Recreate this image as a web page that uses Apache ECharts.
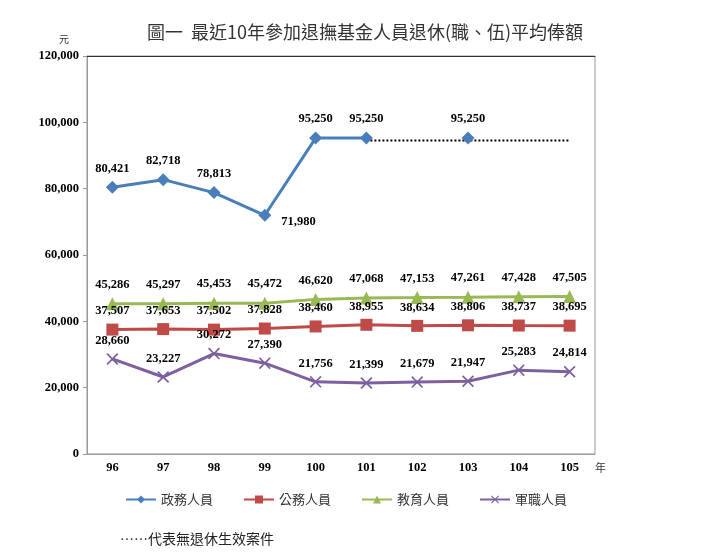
<!DOCTYPE html>
<html>
<head>
<meta charset="utf-8">
<title>最近10年參加退撫基金人員退休(職、伍)平均俸額</title>
<script src="https://cdn.jsdelivr.net/npm/echarts@6/dist/echarts.min.js"></script>
<style>
  html, body { margin: 0; padding: 0; background: #fff; }
  #chart { width: 720px; height: 557px; }
</style>
</head>
<body>
<div id="chart"></div>
<script>
// 民國年
var years = ['96', '97', '98', '99', '100', '101', '102', '103', '104', '105'];

var zhengwu = [80421, 82718, 78813, 71980, 95250, 95250, null, 95250, null, null];
var gongwu  = [37507, 37653, 37502, 37828, 38460, 38955, 38634, 38806, 38737, 38695];
var jiaoyu  = [45286, 45297, 45453, 45472, 46620, 47068, 47153, 47261, 47428, 47505];
var junzhi  = [28660, 23227, 30272, 27390, 21756, 21399, 21679, 21947, 25283, 24814];
// 無退休生效案件 (dotted)
var noCase  = [null, null, null, null, null, 94500, 94500, 94500, 94500, 94500];

var names = ['政務人員', '公務人員', '教育人員', '軍職人員'];
var colors = ['#4A7EBB', '#BE4B48', '#98B954', '#7D60A0'];

var labelFont = 'Liberation Serif';
var cjkFont = '"Noto Sans CJK TC"';
var crossSymbol = 'path://M0,1L1,0L5,4L9,0L10,1L6,5L10,9L9,10L5,6L1,10L0,9L4,5Z';

function fmt(p) {
	return p.value == null ? '' : Number(p.value).toLocaleString('en-US');
}

function makeSeries(name, data, color, symbol, size) {
	return {
		name: name,
		type: 'line',
		data: data,
		symbol: symbol,
		symbolSize: size,
		connectNulls: false,
		lineStyle: { color: color, width: 3 },
		itemStyle: { color: color },
		label: {
			show: true,
			position: 'top',
			distance: 6,
			formatter: fmt,
			fontFamily: labelFont,
			fontWeight: 'bold',
			fontSize: 12.5,
			color: '#000'
		},
		z: 3
	};
}

var s1 = makeSeries(names[0], zhengwu, colors[0], 'diamond', 13);
// 71,980 label sits to the right
s1.data = zhengwu.map(function (v, i) {
	if (i === 3) return { value: v, label: { position: 'right', distance: 10, offset: [0, 6] } };
	return v;
});

var chart = echarts.init(document.getElementById('chart'));
var option = {
	animation: false,
	textStyle: { fontFamily: labelFont },
	title: {
		text: '圖一  最近10年參加退撫基金人員退休(職、伍)平均俸額',
		left: 360,
		top: 18,
		textAlign: 'center',
		textStyle: { fontFamily: cjkFont, fontSize: 18, fontWeight: 'normal', color: '#333' }
	},
	grid: {
		left: 87, right: 125, top: 56, bottom: 103,
		show: true, borderColor: '#999', borderWidth: 1
	},
	legend: {
		data: names,
		left: 120,
		top: 488,
		itemWidth: 30,
		itemHeight: 10,
		itemGap: 30,
		textStyle: { fontFamily: cjkFont, fontSize: 13, color: '#333' }
	},
	xAxis: [{
		type: 'category',
		data: years,
		name: '年',
		nameLocation: 'end',
		nameGap: 0,
		nameTextStyle: { fontFamily: cjkFont, fontSize: 11, color: '#333', verticalAlign: 'top', padding: [8, 0, 0, 0] },
		axisLine: { lineStyle: { color: '#999' } },
		axisTick: { inside: true, length: 4, lineStyle: { color: '#999' } },
		axisLabel: { fontFamily: labelFont, fontWeight: 'bold', fontSize: 12.5, color: '#000', margin: 7 }
	}, {
		type: 'category',
		data: years,
		position: 'top',
		axisLine: { lineStyle: { color: '#333' } },
		axisTick: { show: false },
		axisLabel: { show: false }
	}],
	yAxis: {
		type: 'value',
		min: 0,
		max: 120000,
		interval: 20000,
		name: '元',
		nameLocation: 'end',
		nameGap: 12,
		nameTextStyle: { fontFamily: cjkFont, fontSize: 10, color: '#333', align: 'right', padding: [0, 18, 0, 0] },
		axisLine: { show: true, lineStyle: { color: '#999' } },
		axisTick: { show: true, length: 4, lineStyle: { color: '#999' } },
		splitLine: { show: false },
		axisLabel: {
			fontFamily: labelFont, fontWeight: 'bold', fontSize: 12.5, color: '#000', margin: 8,
			formatter: function (v) { return Number(v).toLocaleString('en-US'); }
		}
	},
	series: [
		s1,
		makeSeries(names[1], gongwu, colors[1], 'rect', 12),
		makeSeries(names[2], jiaoyu, colors[2], 'triangle', 13),
		makeSeries(names[3], junzhi, colors[3], crossSymbol, 12),
		{
			name: '無退休生效案件',
			type: 'line',
			data: noCase,
			symbol: 'none',
			lineStyle: { color: '#000', width: 2, type: [2, 2] },
			z: 2,
			silent: true
		}
	],
	graphic: [{
		type: 'text',
		left: 120,
		top: 532,
		style: { text: '……代表無退休生效案件', font: '14px ' + cjkFont, fill: '#222' }
	}]
};
chart.setOption(option);
</script>
</body>
</html>
